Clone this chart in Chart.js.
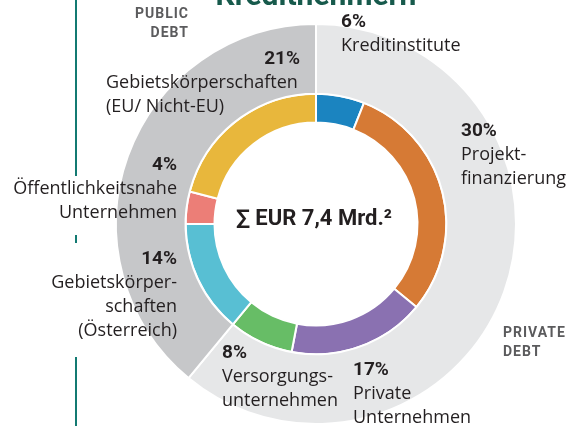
<!DOCTYPE html>
<html lang="de">

<head>
    <meta charset="UTF-8">
    <title>Kreditnehmer</title>
    <script src="https://cdn.jsdelivr.net/npm/chart.js"></script>
    <style>
        body { margin: 0; background: #fff; }
        #wrap { width: 583px; height: 426px; }
    </style>
</head>

<body>
    <div id="wrap"><canvas id="grafikKredit" width="583" height="426"></canvas></div>
</body>

</html>
<script>
    // innerer Ring, im Uhrzeigersinn ab 12 Uhr
    const kategorien = ['Kreditinstitute', 'Projektfinanzierung', 'Private Unternehmen', 'Versorgungsunternehmen',
        'Gebietskörperschaften (Österreich)', 'Öffentlichkeitsnahe Unternehmen', 'Gebietskörperschaften (EU/ Nicht-EU)']
    const anteile = [6, 30, 17, 8, 14, 4, 21]
    const farben = ['#1b84c0', '#d67a35', '#8a71b1', '#67bd66', '#58bfd3', '#ec7e77', '#e8b73c']

    // äußerer Ring
    const segmente = ['PRIVATE DEBT', 'PUBLIC DEBT']
    const segmentAnteile = [61, 39]
    const segmentFarben = ['#e6e7e8', '#c6c7c9']

    const titel = 'Kreditnehmern'
    const summe = '∑ EUR 7,4 Mrd.²'

    const schriftText = '"Open Sans", sans-serif'
    const schriftZahl = 'Roboto, sans-serif'

    // Beschriftungen: [index, zeilen, x, y, ausrichtung]
    const beschriftungen = [
        [0, ['Kreditinstitute'], 341, 22, 'left'],
        [1, ['Projekt-', 'finanzierung'], 461, 131, 'left'],
        [2, ['Private', 'Unternehmen'], 353, 370, 'left'],
        [3, ['Versorgungs-', 'unternehmen'], 222, 353, 'left'],
        [4, ['Gebietskörper-', 'schaften', '(Österreich)'], 177, 259, 'right'],
        [5, ['Öffentlichkeitsnahe', 'Unternehmen'], 177, 165, 'right']
    ]

    const textPlugin = {
        id: 'textPlugin',
        beforeDraw(chart) {
            const ctx = chart.ctx
            ctx.save()
            // senkrechte Linie links
            ctx.strokeStyle = '#137a72'
            ctx.lineWidth = 2
            ctx.beginPath()
            ctx.moveTo(76, 0); ctx.lineTo(76, 176)
            ctx.moveTo(76, 235); ctx.lineTo(76, 243)
            ctx.moveTo(76, 357); ctx.lineTo(76, 426)
            ctx.stroke()
            ctx.restore()
        },
        afterDraw(chart) {
            const ctx = chart.ctx
            ctx.save()
            ctx.textBaseline = 'middle'

            // Titel (oben abgeschnitten)
            ctx.fillStyle = '#175a4c'
            ctx.font = 'bold 30px ' + schriftZahl
            ctx.textAlign = 'center'
            ctx.textBaseline = 'alphabetic'
            ctx.fillText(titel, 316, 5)
            ctx.textBaseline = 'middle'

            // PUBLIC / PRIVATE DEBT
            ctx.fillStyle = '#5b5b5d'
            ctx.font = 'bold 14px ' + schriftZahl
            ctx.letterSpacing = '1px'
            ctx.textAlign = 'right'
            ctx.fillText('PUBLIC', 189, 14)
            ctx.fillText('DEBT', 189, 33)
            ctx.textAlign = 'left'
            ctx.fillText('PRIVATE', 503, 333)
            ctx.fillText('DEBT', 503, 352)
            ctx.letterSpacing = '0px'

            ctx.fillStyle = '#231f20'
            for (const b of beschriftungen) {
                const [i, zeilen, x, y, ausrichtung] = b
                ctx.textAlign = ausrichtung
                ctx.font = 'bold 19px ' + schriftZahl
                ctx.fillText(anteile[i] + '%', x, y)
                ctx.font = '18px ' + schriftText
                zeilen.forEach((z, k) => ctx.fillText(z, x, y + 24 * (k + 1)))
            }

            // Gebietskörperschaften EU
            ctx.textAlign = 'right'
            ctx.font = 'bold 19px ' + schriftZahl
            ctx.fillText(anteile[6] + '%', 300, 59)
            ctx.textAlign = 'left'
            ctx.font = '18px ' + schriftText
            ctx.fillText('Gebietskörperschaften', 106, 83)
            ctx.fillText('(EU/ Nicht-EU)', 106, 107)

            // Mitte
            ctx.textAlign = 'center'
            ctx.font = 'bold 22px ' + schriftZahl
            ctx.fillText(summe, 314, 219)
            ctx.restore()
        }
    }

    new Chart(document.getElementById('grafikKredit'), {
        type: 'doughnut',
        data: {
            labels: kategorien,
            datasets: [
                {
                    label: 'Segment',
                    data: segmentAnteile,
                    backgroundColor: segmentFarben,
                    borderColor: '#ffffff',
                    borderWidth: 2,
                    weight: 70
                },
                {
                    label: 'Kreditnehmer',
                    data: anteile,
                    backgroundColor: farben,
                    borderColor: '#ffffff',
                    borderWidth: 2,
                    weight: 29
                }
            ]
        },
        options: {
            responsive: false,
            animation: false,
            radius: 200,
            cutout: 101,
            layout: {
                padding: { top: 24, bottom: 2, left: 49, right: 0 }
            },
            plugins: {
                legend: { display: false },
                tooltip: { enabled: false }
            }
        },
        plugins: [textPlugin]
    });
</script>
